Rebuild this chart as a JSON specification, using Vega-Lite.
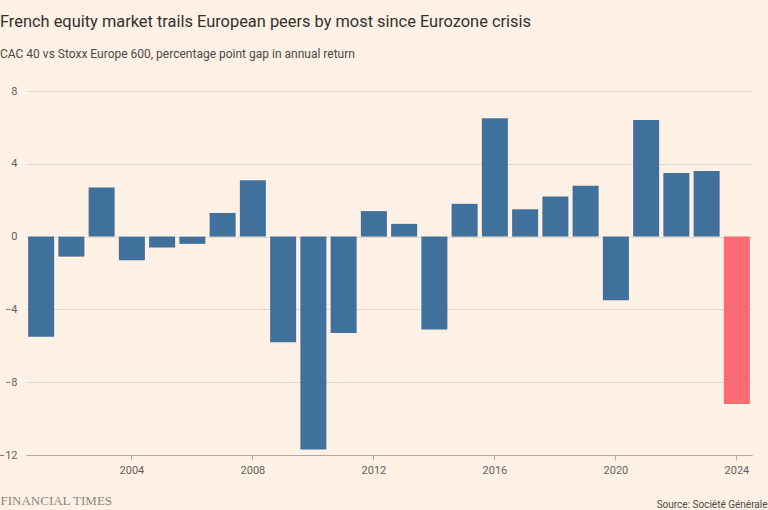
{
  "$schema": "https://vega.github.io/schema/vega-lite/v6.json",
  "width": 726,
  "height": 364,
  "autosize": "none",
  "padding": {"left": 26, "top": 91, "right": 16, "bottom": 55},
  "background": "#FFF1E5",
  "title": {
    "text": "French equity market trails European peers by most since Eurozone crisis",
    "subtitle": "CAC 40 vs Stoxx Europe 600, percentage point gap in annual return",
    "anchor": "start",
    "frame": "group",
    "dx": -26,
    "dy": 3,
    "offset": 28,
    "font": "Roboto",
    "fontSize": 16.4,
    "fontWeight": "normal",
    "color": "#33302E",
    "subtitleFont": "Roboto",
    "subtitleFontSize": 12,
    "subtitleColor": "#4d4845",
    "subtitlePadding": 19
  },
  "data": {
    "values": [
      {"year": 2001, "gap": -5.5},
      {"year": 2002, "gap": -1.1},
      {"year": 2003, "gap": 2.7},
      {"year": 2004, "gap": -1.3},
      {"year": 2005, "gap": -0.6},
      {"year": 2006, "gap": -0.4},
      {"year": 2007, "gap": 1.3},
      {"year": 2008, "gap": 3.1},
      {"year": 2009, "gap": -5.8},
      {"year": 2010, "gap": -11.7},
      {"year": 2011, "gap": -5.3},
      {"year": 2012, "gap": 1.4},
      {"year": 2013, "gap": 0.7},
      {"year": 2014, "gap": -5.1},
      {"year": 2015, "gap": 1.8},
      {"year": 2016, "gap": 6.5},
      {"year": 2017, "gap": 1.5},
      {"year": 2018, "gap": 2.2},
      {"year": 2019, "gap": 2.8},
      {"year": 2020, "gap": -3.5},
      {"year": 2021, "gap": 6.4},
      {"year": 2022, "gap": 3.5},
      {"year": 2023, "gap": 3.6},
      {"year": 2024, "gap": -9.2}
    ]
  },
  "mark": {"type": "bar"},
  "encoding": {
    "x": {
      "field": "year",
      "type": "ordinal",
      "scale": {"paddingInner": 0.14, "paddingOuter": 0.07},
      "axis": {
        "values": [2004, 2008, 2012, 2016, 2020, 2024],
        "labelAngle": 0,
        "labelFont": "Roboto",
        "labelFontSize": 11,
        "labelColor": "#66605C",
        "labelPadding": 4,
        "ticks": true,
        "tickSize": 5,
        "tickColor": "#B3A9A0",
        "domain": true,
        "domainColor": "#B3A9A0",
        "grid": false,
        "title": "Source: Société Générale",
        "titleFont": "Roboto",
        "titleFontSize": 10,
        "titleFontWeight": "normal",
        "titleColor": "#4d4845",
        "titleAlign": "right",
        "titleAnchor": "end",
        "titleBaseline": "alphabetic",
        "titleX": 741,
        "titleY": 52
      }
    },
    "y": {
      "field": "gap",
      "type": "quantitative",
      "scale": {"domain": [-12, 8], "nice": false},
      "axis": {
        "values": [-12, -8, -4, 0, 4, 8],
        "labelFont": "Roboto",
        "labelFontSize": 11,
        "labelColor": "#66605C",
        "labelPadding": 9,
        "ticks": false,
        "domain": false,
        "grid": true,
        "gridColor": "#E3D6CB",
        "title": "FINANCIAL TIMES",
        "titleFont": "Liberation Serif",
        "titleFontSize": 13,
        "titleFontWeight": "normal",
        "titleColor": "#8A8580",
        "titleAngle": 0,
        "titleAlign": "left",
        "titleBaseline": "alphabetic",
        "titleX": -26,
        "titleY": 413
      }
    },
    "color": {
      "condition": {"test": "datum.year === 2024", "value": "#FA6B74"},
      "value": "#40709C"
    }
  },
  "config": {
    "view": {"stroke": null}
  }
}
